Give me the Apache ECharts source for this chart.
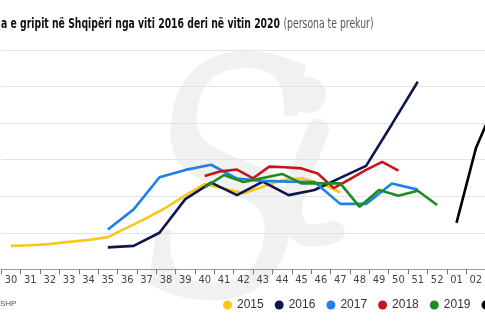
<!DOCTYPE html>
<html>
<head>
<meta charset="utf-8">
<script src="https://cdn.jsdelivr.net/npm/echarts@6/dist/echarts.min.js"></script>
<style>
  html, body { margin: 0; padding: 0; background: #fff; }
  #chart { width: 485px; height: 325px; }
</style>
</head>
<body>
<div id="chart"></div>
<script>
// Epidemiological weeks shown on the horizontal axis
const weeks = ['30','31','32','33','34','35','36','37','38','39','40','41','42','43','44','45','46','47','48','49','50','51','52','01','02','03'];

// Weekly cases per season; each series is spread evenly between its first and last week
const span2015 = ['30', '47'];
const cases2015 = [64, 66, 69, 75, 80, 88, 114, 140, 169, 202, 233, 221, 208, 226, 244, 249, 235, 210];

const span2016 = ['35', '51'];
const cases2016 = [60, 64, 100, 192, 237, 203, 240, 203, 217, 250, 283, 397, 513];

const span2017 = ['35', '51'];
const cases2017 = [109, 164, 252, 272, 286, 248, 242, 240, 239, 179, 179, 235, 218];

const span2018 = ['40', '50'];
const cases2018 = [255, 268, 273, 249, 281, 279, 276, 262, 222, 247, 272, 294, 270];

const span2019 = ['40', '52'];
const cases2019 = [224, 258, 239, 250, 261, 235, 235, 235, 171, 217, 201, 215, 176];

const span2020 = ['01', '03'];
const cases2020 = [127, 331, 455];

const seasonNames = ['2015', '2016', '2017', '2018', '2019', '2020'];
const seasonColors = ['#f7c81a', '#0e1650', '#1f80e8', '#c8141c', '#1d8c1f', '#000000'];

const titleMain = 'a e gripit në Shqipëri nga viti 2016 deri në vitin 2020';
const titleNote = '(persona te prekur)';
const sourceText = 'SHP';

function placed(span, values) {
  const a = weeks.indexOf(span[0]);
  const b = weeks.indexOf(span[1]);
  const step = values.length > 1 ? (b - a) / (values.length - 1) : 0;
  return values.map((v, k) => [a + k * step, v]);
}

const seasons = [
  [span2015, cases2015], [span2016, cases2016], [span2017, cases2017],
  [span2018, cases2018], [span2019, cases2019], [span2020, cases2020]
];

// Condensed headline: measure the run and squeeze it horizontally to its set width
const measureCtx = document.createElement('canvas').getContext('2d');
function squeeze(text, font, targetWidth) {
  measureCtx.font = font;
  return targetWidth / measureCtx.measureText(text).width;
}
const mainFont = 'bold 14.5px "DejaVu Sans Condensed", "DejaVu Sans", sans-serif';
const noteFont = '14px "DejaVu Sans Condensed", "DejaVu Sans", sans-serif';

const band = 19.37;
const narrow = '"DejaVu Sans Condensed", "Liberation Sans", sans-serif';
const markGrey = '#f1f1f1';
const chart = echarts.init(document.getElementById('chart'));

chart.setOption({
  animation: false,
  backgroundColor: '#ffffff',
  graphic: [
    // faint "Si" brand mark behind the plot
    {
      type: 'text',
      z: -10,
      x: 141,
      y: 45,
      scaleX: 0.78,
      silent: true,
      style: { text: 'S', font: 'italic 330px "DejaVu Serif", serif', fill: markGrey }
    },
    {
      type: 'circle',
      z: -10,
      silent: true,
      shape: { cx: 308, cy: 95, r: 18 },
      style: { fill: markGrey }
    },
    {
      type: 'polyline',
      z: -10,
      silent: true,
      shape: { points: [[318, 130], [300, 178], [291, 212], [304, 234], [334, 232]], smooth: 0.4 },
      style: { stroke: markGrey, lineWidth: 22, lineCap: 'round', fill: null }
    },
    {
      type: 'text',
      x: 1,
      y: 24,
      scaleX: squeeze(titleMain, mainFont, 279),
      style: { text: titleMain, font: mainFont, fill: '#111', verticalAlign: 'middle' }
    },
    {
      type: 'text',
      x: 283.5,
      y: 24,
      scaleX: squeeze(titleNote, noteFont, 90),
      style: { text: titleNote, font: noteFont, fill: '#555', verticalAlign: 'middle' }
    },
    {
      type: 'text',
      left: 0,
      top: 300,
      style: { text: sourceText, font: '8px "Liberation Sans", sans-serif', fill: '#555' }
    }
  ],
  legend: {
    left: 218,
    top: 294,
    width: 400,
    icon: 'circle',
    itemWidth: 9,
    itemHeight: 9,
    itemGap: 11,
    textStyle: { fontFamily: 'Liberation Sans, sans-serif', fontSize: 12, color: '#333' },
    data: seasonNames
  },
  grid: { left: 1.3, top: 50, width: band * weeks.length, height: 219.3, outerBoundsMode: 'none', containLabel: false },
  xAxis: [
    {
      type: 'category',
      data: weeks,
      boundaryGap: true,
      axisLine: { lineStyle: { color: '#9a9a9a', width: 1 } },
      axisTick: { show: true, length: 5, lineStyle: { color: '#777' } },
      axisLabel: { margin: 5, fontFamily: narrow, fontSize: 11, color: '#444', interval: 0 }
    },
    {
      type: 'value',
      min: -0.5,
      max: weeks.length - 0.5,
      show: false
    }
  ],
  yAxis: {
    type: 'value',
    min: 0,
    max: 600,
    interval: 100,
    axisLabel: { show: false },
    axisLine: { show: false },
    axisTick: { show: false },
    splitLine: { lineStyle: { color: '#e3e3e3', width: 1 } }
  },
  series: seasons.map((s, i) => ({
    name: seasonNames[i],
    type: 'line',
    xAxisIndex: 1,
    data: placed(s[0], s[1]),
    showSymbol: false,
    symbol: 'circle',
    color: seasonColors[i],
    lineStyle: { width: 2.6, color: seasonColors[i] }
  }))
});
</script>
</body>
</html>
